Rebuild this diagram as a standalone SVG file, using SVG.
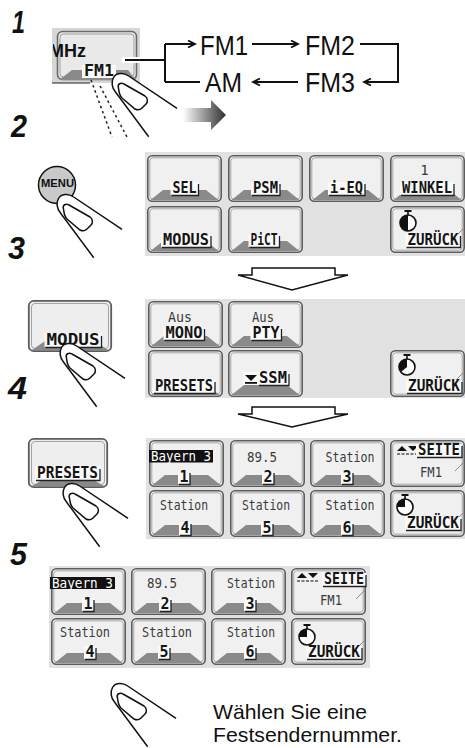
<svg xmlns="http://www.w3.org/2000/svg" width="465" height="748" viewBox="0 0 465 748">
<defs>
<style>
.step{font-family:"Liberation Sans",Arial,sans-serif;font-weight:bold;font-style:italic;font-size:32px;fill:#111}
.band{font-family:"Liberation Sans",Arial,sans-serif;font-size:28px;fill:#111}
.note{font-family:"Liberation Sans",Arial,sans-serif;font-size:21px;fill:#111}
.lbl{font-family:"DejaVu Sans Mono",monospace;font-weight:bold;font-size:15px;fill:#151515;text-anchor:middle}
.txt{font-family:"DejaVu Sans Mono",monospace;font-size:14px;fill:#3a3a3a;text-anchor:middle}
.inv{font-family:"DejaVu Sans Mono",monospace;font-size:13.5px;fill:#fff;text-anchor:middle}
.lb{fill:#fafafa}
.ul{fill:none;stroke:#222;stroke-width:1.3}
.panel{fill:#e1e1e1}
.wire{fill:none;stroke:#111;stroke-width:2}
.ink{fill:none;stroke:#111;stroke-width:1.5}
.hollow{fill:#fff;stroke:#111;stroke-width:1.5;stroke-linejoin:miter}
.dog{fill:none;stroke:#8a8a8a;stroke-width:1}
</style>
<marker id="chev" viewBox="0 0 10 8" markerWidth="10" markerHeight="8" refX="8" refY="4" orient="auto" markerUnits="userSpaceOnUse">
<path d="M1,0.5 L8,4 L1,7.5" fill="none" stroke="#111" stroke-width="1.8"/>
</marker>
<linearGradient id="fade" x1="0" y1="0" x2="1" y2="0">
<stop offset="0" stop-color="#ffffff"/>
<stop offset="1" stop-color="#2e2e2e"/>
</linearGradient>
<clipPath id="mhzClip"><rect x="53" y="28" width="87" height="55"/></clipPath>
<!-- soft key with tab at the bottom -->
<g id="key">
<rect x="0.8" y="0.8" width="73.4" height="45.4" rx="4.5" fill="#f0f0f0" stroke="#5c5c5c" stroke-width="1.6"/>
<rect x="2.8" y="2.8" width="69.4" height="41.4" rx="3" fill="none" stroke="#a5a5a5" stroke-width="1"/>
<polygon points="3.5,45 16,35 59,35 71.5,45" fill="#8a8a8a"/>
</g>
<!-- soft key without tab, folded corner -->
<g id="keyFlat">
<rect x="0.8" y="0.8" width="73.4" height="45.4" rx="4.5" fill="#f0f0f0" stroke="#5c5c5c" stroke-width="1.6"/>
<rect x="2.8" y="2.8" width="69.4" height="41.4" rx="3" fill="none" stroke="#a5a5a5" stroke-width="1"/>
<path class="dog" d="M65,31 L73,23"/>
</g>
<!-- stopwatch dial -->
<g id="watch">
<circle cx="0" cy="0" r="8" fill="#fff" stroke="#111" stroke-width="1.6"/>
<line x1="0" y1="-8" x2="0" y2="-11" stroke="#111" stroke-width="1.6"/>
<line x1="-3.5" y1="-12" x2="3.5" y2="-12" stroke="#111" stroke-width="2"/>
</g>
<!-- pointing finger -->
<g id="finger">
<path d="M125,378.3 L76.7,346 C71,342 64,343 61.5,347.5 C59,352 60,358 63.3,361.7 L96.7,406.7 Z" fill="#fff"/>
<path class="ink" d="M125,378.3 L76.7,346 C71,342 64,343 61.5,347.5 C59,352 60,358 63.3,361.7 L96.7,406.7"/>
<path class="ink" d="M66.5,358 C65,354 69,352 72,354 L93,366 C96,368 96,372 94,374 L90,378 C88,380 85,380 83,379 L70,368 C67,365 67,361 66.5,358 Z"/>
</g>
</defs>

<rect width="465" height="748" fill="#fff"/>

<!-- step numbers -->
<g id="steps">
<text class="step" x="12" y="33" textLength="13" lengthAdjust="spacingAndGlyphs">1</text>
<text class="step" x="11" y="137" textLength="16" lengthAdjust="spacingAndGlyphs">2</text>
<text class="step" x="8" y="259" textLength="17" lengthAdjust="spacingAndGlyphs">3</text>
<text class="step" x="8" y="399" textLength="19" lengthAdjust="spacingAndGlyphs">4</text>
<text class="step" x="10" y="565" textLength="17" lengthAdjust="spacingAndGlyphs">5</text>
</g>

<!-- step 1: band key -->
<g id="band-key">
<rect x="52" y="28" width="88" height="55" fill="#d6d6d6"/>
<rect x="57.5" y="31.5" width="79" height="48" rx="5" fill="#e9e9e9" stroke="#6a6a6a" stroke-width="1.6"/>
<rect x="60" y="34" width="74" height="43" rx="3.5" fill="none" stroke="#a0a0a0" stroke-width="1"/>
<polygon points="59,80 72,70 128,70 136,80" fill="#8a8a8a"/>
<text clip-path="url(#mhzClip)" x="49" y="57" font-family="'Liberation Sans',Arial,sans-serif" font-weight="bold" font-size="18" fill="#111" textLength="37" lengthAdjust="spacingAndGlyphs">MHz</text>
<rect x="82" y="65" width="34" height="13" class="lb"/>
<text class="lbl" x="99" y="76" textLength="30" lengthAdjust="spacingAndGlyphs">FM1</text>
<rect x="122" y="57" width="18" height="6" fill="#fff"/>
<line x1="52" y1="83" x2="90" y2="83" stroke="#222" stroke-width="1.2"/>
<line x1="91" y1="80" x2="112" y2="137" stroke="#222" stroke-width="1.5" stroke-dasharray="2.5 3"/>
<line x1="100" y1="86" x2="127" y2="137" stroke="#222" stroke-width="1.5" stroke-dasharray="2.5 3"/>
<use href="#finger" transform="translate(52,-270)"/>
</g>

<!-- band names -->
<g id="band-fm1"><text class="band" x="200" y="55" textLength="48" lengthAdjust="spacingAndGlyphs">FM1</text></g>
<g id="band-fm2"><text class="band" x="305" y="55" textLength="50" lengthAdjust="spacingAndGlyphs">FM2</text></g>
<g id="band-fm3"><text class="band" x="305" y="92" textLength="50" lengthAdjust="spacingAndGlyphs">FM3</text></g>
<g id="band-am"><text class="band" x="205" y="92" textLength="37" lengthAdjust="spacingAndGlyphs">AM</text></g>

<!-- band cycle connectors -->
<g id="connectors">
<path class="wire" d="M125,60 H165"/>
<path class="wire" d="M165,44 V82"/>
<path class="wire" d="M165,44 H195" marker-end="url(#chev)"/>
<path class="wire" d="M165,82 H200"/>
<path class="wire" d="M252,44 H298" marker-end="url(#chev)"/>
<path class="wire" d="M360,44 H398 V82 H364" marker-end="url(#chev)"/>
<path class="wire" d="M298,82 H253" marker-end="url(#chev)"/>
<polygon points="183,108 211,108 211,100 226,115 211,130 211,122 183,122" fill="url(#fade)"/>
<polygon class="hollow" points="252,268 335,268 335,275 348,275 292,290 238,275 252,275"/>
<polygon class="hollow" points="252,407 335,407 335,414 348,414 292,427 238,414 252,414"/>
</g>

<!-- step 2: MENU button -->
<g id="menu-button">
<circle cx="57" cy="185" r="18.5" fill="#c9c9c9" stroke="#111" stroke-width="1.5"/>
<text x="57.5" y="187" text-anchor="middle" font-family="'Liberation Sans',Arial,sans-serif" font-weight="bold" font-size="11" fill="#111" textLength="33" lengthAdjust="spacingAndGlyphs">MENU</text>
<use href="#finger" transform="translate(-3,-149)"/>
</g>

<!-- step 2: menu screen -->
<g id="menu-screen">
<rect class="panel" x="145" y="152" width="320" height="104"/>
<g id="key-sel"><use href="#key" x="147" y="155"/>
<rect class="lb" x="170.5" y="182" width="28" height="13"/><text class="lbl" x="184.5" y="193" textLength="24" lengthAdjust="spacingAndGlyphs">SEL</text><path class="ul" d="M171.5,195.5 H198.5 V184"/></g>
<g id="key-psm"><use href="#key" x="228" y="155"/>
<rect class="lb" x="251" y="182" width="29" height="13"/><text class="lbl" x="265.5" y="193" textLength="25" lengthAdjust="spacingAndGlyphs">PSM</text><path class="ul" d="M252,195.5 H280 V184"/></g>
<g id="key-ieq"><use href="#key" x="309" y="155"/>
<rect class="lb" x="328" y="182" width="37" height="13"/><text class="lbl" x="346.5" y="193" textLength="33" lengthAdjust="spacingAndGlyphs">i-EQ</text><path class="ul" d="M329,195.5 H365 V184"/></g>
<g id="key-winkel"><use href="#key" x="390" y="155"/>
<text class="txt" x="424.5" y="175">1</text>
<rect class="lb" x="400" y="182" width="54" height="13"/><text class="lbl" x="427" y="193" textLength="50" lengthAdjust="spacingAndGlyphs">WINKEL</text><path class="ul" d="M401,195.5 H454 V184"/></g>
<g id="key-modus"><use href="#key" x="147" y="206"/>
<rect class="lb" x="161" y="234" width="50" height="13"/><text class="lbl" x="186" y="245" textLength="46" lengthAdjust="spacingAndGlyphs">MODUS</text><path class="ul" d="M162,247.5 H211 V236"/></g>
<g id="key-pict"><use href="#key" x="228" y="206"/>
<rect class="lb" x="248.5" y="234" width="31" height="13"/><text class="lbl" x="264" y="245" textLength="27" lengthAdjust="spacingAndGlyphs">PiCT</text><path class="ul" d="M249.5,247.5 H279.5 V236"/></g>
<g id="key-back1"><use href="#keyFlat" x="390" y="206"/>
<use href="#watch" x="408" y="223"/><path d="M408,215 A8,8 0 0,0 408,231 Z" fill="#111"/>
<rect class="lb" x="405.5" y="234" width="55" height="13"/><text class="lbl" x="433" y="245" textLength="51" lengthAdjust="spacingAndGlyphs">ZURÜCK</text><path class="ul" d="M406.5,247.5 H460.5 V236"/></g>
</g>

<!-- step 3: MODUS button -->
<g id="modus-button">
<rect x="28.8" y="300.8" width="82.4" height="50.4" rx="5" fill="#eeeeee" stroke="#5c5c5c" stroke-width="1.8"/>
<rect x="31.5" y="303.5" width="77" height="45" rx="3.5" fill="none" stroke="#a5a5a5" stroke-width="1"/>
<polygon points="32,350 45,341 95,341 108,350" fill="#8a8a8a"/>
<rect class="lb" x="44.5" y="333" width="57" height="14"/>
<text class="lbl" x="73" y="345" font-size="16" textLength="53" lengthAdjust="spacingAndGlyphs">MODUS</text>
<path class="ul" d="M45.5,347.5 H101.5 V336"/>
<use href="#finger"/>
</g>

<!-- step 3: mode screen -->
<g id="mode-screen">
<rect class="panel" x="145" y="299" width="320" height="99"/>
<g id="key-mono"><use href="#key" x="148" y="301"/>
<text class="txt" x="180" y="322" font-size="13" textLength="24" lengthAdjust="spacingAndGlyphs">Aus</text>
<rect class="lb" x="163.5" y="327" width="41" height="13"/><text class="lbl" x="184" y="338" textLength="37" lengthAdjust="spacingAndGlyphs">MONO</text><path class="ul" d="M164.5,340.5 H204.5 V329"/></g>
<g id="key-pty"><use href="#key" x="228" y="301"/>
<text class="txt" x="263" y="322" font-size="13" textLength="22" lengthAdjust="spacingAndGlyphs">Aus</text>
<rect class="lb" x="250.5" y="327" width="31" height="13"/><text class="lbl" x="266" y="338" textLength="27" lengthAdjust="spacingAndGlyphs">PTY</text><path class="ul" d="M251.5,340.5 H281.5 V329"/></g>
<g id="key-presets"><use href="#key" x="148" y="350"/>
<rect class="lb" x="153" y="380" width="62" height="13"/><text class="lbl" x="184" y="391" textLength="58" lengthAdjust="spacingAndGlyphs">PRESETS</text><path class="ul" d="M154,393.5 H215 V382"/></g>
<g id="key-ssm"><use href="#key" x="228" y="350"/>
<rect class="lb" x="243" y="372" width="46" height="13"/>
<polygon points="245,375 257,375 251,381" fill="#111"/><rect x="245" y="382" width="12" height="1.8" fill="#111"/>
<text class="lbl" x="273" y="383" textLength="28" lengthAdjust="spacingAndGlyphs">SSM</text><path class="ul" d="M259,385.5 H289 V374"/></g>
<g id="key-back2"><use href="#keyFlat" x="390" y="350"/>
<use href="#watch" x="407" y="367"/><path d="M407,359 A8,8 0 0,0 401,372 L407,367 Z" fill="#111"/>
<rect class="lb" x="406" y="380" width="56" height="13"/><text class="lbl" x="434" y="391" textLength="52" lengthAdjust="spacingAndGlyphs">ZURÜCK</text><path class="ul" d="M407,393.5 H462 V382"/></g>
</g>

<!-- step 4: PRESETS button -->
<g id="presets-button">
<rect x="28.8" y="438.8" width="78.4" height="48.4" rx="5" fill="#eeeeee" stroke="#5c5c5c" stroke-width="1.8"/>
<rect x="31.5" y="441.5" width="73" height="43" rx="3.5" fill="none" stroke="#a5a5a5" stroke-width="1"/>
<polygon points="32,486 44,479 92,479 104,486" fill="#8a8a8a"/>
<rect class="lb" x="35" y="466" width="65" height="14"/>
<text class="lbl" x="67.5" y="478" font-size="16" textLength="61" lengthAdjust="spacingAndGlyphs">PRESETS</text>
<path class="ul" d="M36,480.5 H100 V469"/>
<use href="#finger" transform="translate(3,140)"/>
</g>

<!-- step 4: preset screen -->
<g id="preset-screen">
<rect class="panel" x="146" y="438" width="319" height="101"/>
<g id="p1"><use href="#key" x="149" y="440"/>
<rect x="149" y="450" width="64" height="12.5" fill="#111"/><text class="inv" x="181" y="461" textLength="60" lengthAdjust="spacingAndGlyphs">Bayern 3</text>
<rect class="lb" x="178" y="471" width="12" height="13"/><text class="lbl" x="184" y="482">1</text><path class="ul" d="M179,484.5 H190 V473"/></g>
<g id="p2"><use href="#key" x="230" y="440"/>
<text class="txt" x="262" y="462" textLength="30" lengthAdjust="spacingAndGlyphs">89.5</text>
<rect class="lb" x="262" y="471" width="12" height="13"/><text class="lbl" x="268" y="482">2</text><path class="ul" d="M263,484.5 H274 V473"/></g>
<g id="p3"><use href="#key" x="310" y="440"/>
<text class="txt" x="350" y="462" textLength="49" lengthAdjust="spacingAndGlyphs">Station</text>
<rect class="lb" x="341" y="471" width="12" height="13"/><text class="lbl" x="347" y="482">3</text><path class="ul" d="M342,484.5 H353 V473"/></g>
<g id="page1"><use href="#keyFlat" x="390" y="440"/>
<polygon points="397,451 402,446 407,451" fill="#111"/><polygon points="408,446 418,446 413,451" fill="#111"/>
<line x1="397" y1="454" x2="418" y2="454" stroke="#555" stroke-width="1.4" stroke-dasharray="3 1.5"/>
<rect class="lb" x="416" y="444" width="46" height="13"/><text class="lbl" x="439" y="455" textLength="42" lengthAdjust="spacingAndGlyphs">SEITE</text><path class="ul" d="M417,457.5 H462 V446"/>
<text class="txt" x="431" y="477" textLength="22" lengthAdjust="spacingAndGlyphs">FM1</text></g>
<g id="p4"><use href="#key" x="149" y="490"/>
<text class="txt" x="184" y="510" textLength="48" lengthAdjust="spacingAndGlyphs">Station</text>
<rect class="lb" x="179" y="522" width="12" height="13"/><text class="lbl" x="185" y="533">4</text><path class="ul" d="M180,535.5 H191 V524"/></g>
<g id="p5"><use href="#key" x="230" y="490"/>
<text class="txt" x="266" y="510" textLength="48" lengthAdjust="spacingAndGlyphs">Station</text>
<rect class="lb" x="261" y="522" width="12" height="13"/><text class="lbl" x="267" y="533">5</text><path class="ul" d="M262,535.5 H273 V524"/></g>
<g id="p6"><use href="#key" x="310" y="490"/>
<text class="txt" x="350" y="510" textLength="49" lengthAdjust="spacingAndGlyphs">Station</text>
<rect class="lb" x="341" y="522" width="12" height="13"/><text class="lbl" x="347" y="533">6</text><path class="ul" d="M342,535.5 H353 V524"/></g>
<g id="back3"><use href="#keyFlat" x="390" y="490"/>
<use href="#watch" x="405" y="507"/><path d="M405,507 V499 A8,8 0 0,0 397,507 Z" fill="#111"/>
<rect class="lb" x="405" y="517" width="56" height="13"/><text class="lbl" x="433" y="528" textLength="52" lengthAdjust="spacingAndGlyphs">ZURÜCK</text><path class="ul" d="M406,530.5 H461 V519"/></g>
</g>

<!-- step 5: preset screen -->
<g id="select-screen">
<rect class="panel" x="49" y="566" width="321" height="102"/>
<g id="s1"><use href="#key" x="51" y="568"/>
<rect x="50" y="577" width="65" height="12" fill="#111"/><text class="inv" x="82.5" y="588" textLength="61" lengthAdjust="spacingAndGlyphs">Bayern 3</text>
<rect class="lb" x="82" y="598" width="12" height="13"/><text class="lbl" x="88" y="609">1</text><path class="ul" d="M83,611.5 H94 V600"/></g>
<g id="s2"><use href="#key" x="131" y="568"/>
<text class="txt" x="162" y="588" textLength="30" lengthAdjust="spacingAndGlyphs">89.5</text>
<rect class="lb" x="159" y="598" width="12" height="13"/><text class="lbl" x="165" y="609">2</text><path class="ul" d="M160,611.5 H171 V600"/></g>
<g id="s3"><use href="#key" x="211" y="568"/>
<text class="txt" x="251" y="588" textLength="48" lengthAdjust="spacingAndGlyphs">Station</text>
<rect class="lb" x="244" y="598" width="12" height="13"/><text class="lbl" x="250" y="609">3</text><path class="ul" d="M245,611.5 H256 V600"/></g>
<g id="page2"><use href="#keyFlat" x="291" y="568"/>
<polygon points="297,578 302,573 307,578" fill="#111"/><polygon points="308,573 318,573 313,578" fill="#111"/>
<line x1="297" y1="581" x2="318" y2="581" stroke="#555" stroke-width="1.4" stroke-dasharray="3 1.5"/>
<rect class="lb" x="322" y="573" width="44" height="13"/><text class="lbl" x="344" y="584" textLength="40" lengthAdjust="spacingAndGlyphs">SEITE</text><path class="ul" d="M323,586.5 H366 V575"/>
<text class="txt" x="331" y="605" textLength="22" lengthAdjust="spacingAndGlyphs">FM1</text></g>
<g id="s4"><use href="#key" x="51" y="618"/>
<text class="txt" x="85" y="637" textLength="50" lengthAdjust="spacingAndGlyphs">Station</text>
<rect class="lb" x="84" y="646" width="12" height="13"/><text class="lbl" x="90" y="657">4</text><path class="ul" d="M85,659.5 H96 V648"/></g>
<g id="s5"><use href="#key" x="131" y="618"/>
<text class="txt" x="167" y="637" textLength="50" lengthAdjust="spacingAndGlyphs">Station</text>
<rect class="lb" x="158" y="646" width="12" height="13"/><text class="lbl" x="164" y="657">5</text><path class="ul" d="M159,659.5 H170 V648"/></g>
<g id="s6"><use href="#key" x="211" y="618"/>
<text class="txt" x="251" y="637" textLength="48" lengthAdjust="spacingAndGlyphs">Station</text>
<rect class="lb" x="244" y="646" width="12" height="13"/><text class="lbl" x="250" y="657">6</text><path class="ul" d="M245,659.5 H256 V648"/></g>
<g id="back4"><use href="#keyFlat" x="291" y="618"/>
<use href="#watch" x="307" y="637"/><path d="M307,637 V629 A8,8 0 0,0 299,637 Z" fill="#111"/>
<rect class="lb" x="306" y="646" width="56" height="13"/><text class="lbl" x="334" y="657" textLength="52" lengthAdjust="spacingAndGlyphs">ZURÜCK</text><path class="ul" d="M307,659.5 H362 V648"/></g>
</g>

<!-- step 5: hint -->
<g id="hint">
<use href="#finger" transform="translate(51,340)"/>
<text class="note" x="213" y="719" textLength="154" lengthAdjust="spacingAndGlyphs">Wählen Sie eine</text>
<text class="note" x="213" y="742" textLength="189" lengthAdjust="spacingAndGlyphs">Festsendernummer.</text>
</g>
</svg>
